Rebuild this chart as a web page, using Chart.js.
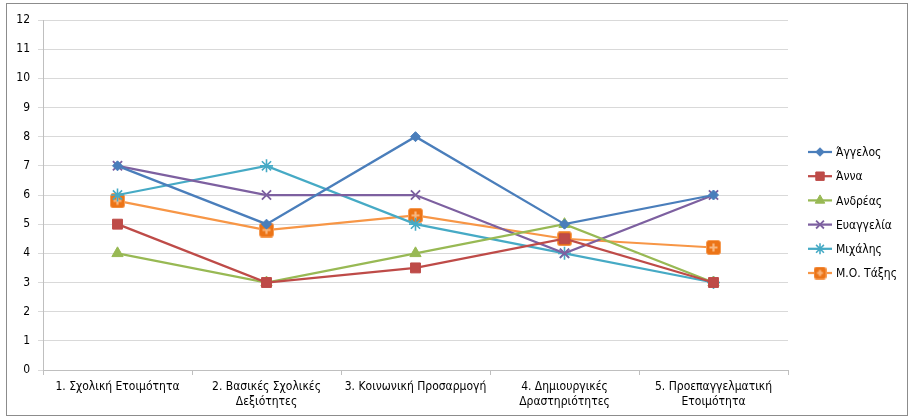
<!DOCTYPE html>
<html><head><meta charset="utf-8">
<script src="https://cdn.jsdelivr.net/npm/chart.js@4"></script>
<style>
html,body{margin:0;padding:0;background:#fff;}
#wrap{position:relative;width:912px;height:420px;}
#frame{position:absolute;left:6px;top:3px;width:900px;height:411px;border:1px solid #8c8c8c;pointer-events:none;}
</style></head><body>
<div id="wrap"><canvas id="c" width="912" height="420"></canvas><div id="frame"></div></div>
<script>
const categories = [
  "1. Σχολική Ετοιμότητα",
  ["2. Βασικές Σχολικές","Δεξιότητες"],
  "3. Κοινωνική Προσαρμογή",
  ["4. Δημιουργικές","Δραστηριότητες"],
  ["5. Προεπαγγελματική","Ετοιμότητα"]
];
const seriesNames = ["Άγγελος","Άννα","Ανδρέας","Ευαγγελία","Μιχάλης","Μ.Ο. Τάξης"];
const angelos   = [7, 5, 8, 5, 6];
const anna      = [5, 3, 3.5, 4.5, 3];
const andreas   = [4, 3, 4, 5, 3];
const evangelia = [7, 6, 6, 4, 6];
const michalis  = [6, 7, 5, 4, 3];
const mesosOros = [5.8, 4.8, 5.3, 4.5, 4.2];
const yTicks = [0,1,2,3,4,5,6,7,8,9,10,11,12];

const FONT = "'Liberation Sans Narrow','DejaVu Sans Condensed','Open Sans',sans-serif";

function plusSquare(size){
  const c = document.createElement('canvas');
  c.width = size; c.height = size;
  const g = c.getContext('2d');
  const r = 2.5;
  g.fillStyle = '#EC7417';
  g.strokeStyle = '#F59C55';
  g.lineWidth = 1;
  g.beginPath();
  g.moveTo(r+0.5,0.5); g.lineTo(size-r-0.5,0.5); g.quadraticCurveTo(size-0.5,0.5,size-0.5,r+0.5);
  g.lineTo(size-0.5,size-r-0.5); g.quadraticCurveTo(size-0.5,size-0.5,size-r-0.5,size-0.5);
  g.lineTo(r+0.5,size-0.5); g.quadraticCurveTo(0.5,size-0.5,0.5,size-r-0.5);
  g.lineTo(0.5,r+0.5); g.quadraticCurveTo(0.5,0.5,r+0.5,0.5); g.closePath();
  g.fill(); g.stroke();
  g.strokeStyle = '#F8B67F'; g.lineWidth = 2.2;
  const m = size/2;
  g.beginPath(); g.moveTo(m,3.5); g.lineTo(m,size-3.5); g.moveTo(3.5,m); g.lineTo(size-3.5,m); g.stroke();
  return c;
}
const plusImg = plusSquare(15);
const plusImgSmall = plusSquare(13);

const styles = [
  {color:'#4A7EBB', point:'rectRot', r:5, fill:'#4A7EBB', bw:1},
  {color:'#BE4B48', point:'rect', r:7, fill:'#BE4B48', bw:1},
  {color:'#98B954', point:'triangle', r:6.5, fill:'#98B954', bw:1},
  {color:'#7D60A0', point:'crossRot', r:6.5, fill:'#7D60A0', bw:1.8},
  {color:'#46AAC5', point:'star', r:6.5, fill:'#46AAC5', bw:1.6},
  {color:'#F79646', point:plusImg, r:7.5, fill:'#EC7417', bw:1}
];
const values = [angelos, anna, andreas, evangelia, michalis, mesosOros];

const datasets = values.map((v,i)=>({
  label: seriesNames[i],
  data: v,
  borderColor: styles[i].color,
  backgroundColor: styles[i].fill,
  pointBorderColor: styles[i].color,
  pointBackgroundColor: styles[i].fill,
  borderWidth: 2.25,
  pointStyle: styles[i].point,
  pointRadius: styles[i].r,
  pointBorderWidth: styles[i].bw,
  tension: 0,
  fill: false
}));

new Chart(document.getElementById('c'), {
  type:'line',
  data:{labels:categories, datasets},
  options:{
    responsive:false,
    animation:false,
    devicePixelRatio:1,
    layout:{padding:{left:0, right:124, top:20, bottom:0}},
    plugins:{legend:{display:false}, tooltip:{enabled:false}},
    scales:{
      x:{
        offset:true,
        grid:{display:true, drawOnChartArea:false, drawTicks:true, tickLength:5, color:'#BFBFBF', offset:true},
        border:{display:true, color:'#BFBFBF', width:1},
        ticks:{color:'#000', font:{family:FONT, size:12}, padding:5, maxRotation:0, autoSkip:false},
        afterFit(s){ s.height = 50; }
      },
      y:{
        min:0, max:12,
        afterBuildTicks(s){ s.ticks = yTicks.map(v=>({value:v})); },
        grid:{color:'#D9D9D9', lineWidth:1, drawTicks:true, tickLength:5},
        border:{display:true, color:'#BFBFBF', width:1},
        ticks:{color:'#000', font:{family:FONT, size:12}, padding:8, stepSize:1},
        afterFit(s){ s.width = 43; }
      }
    }
  },
  plugins:[{
    id:'legendDraw',
    afterDraw(chart){
      const ctx = chart.ctx;
      const x0 = 808, x1 = 832, y0 = 152, dy = 24.2;
      chart.data.datasets.forEach((ds,i)=>{
        const y = y0 + i*dy;
        ctx.save();
        ctx.strokeStyle = ds.borderColor; ctx.lineWidth = 2.25;
        ctx.beginPath(); ctx.moveTo(x0,y); ctx.lineTo(x1,y); ctx.stroke();
        const ps = ds.pointStyle;
        if (ps instanceof HTMLCanvasElement){
          ctx.drawImage(plusImgSmall, (x0+x1)/2-6.5, y-6.5);
        } else {
          ctx.fillStyle = ds.pointBackgroundColor;
          ctx.strokeStyle = ds.pointBorderColor;
          ctx.lineWidth = ds.pointBorderWidth;
          Chart.helpers.drawPoint(ctx, {pointStyle: ps, radius: ds.pointRadius*0.85, rotation:0, borderWidth: ds.pointBorderWidth}, (x0+x1)/2, y);
        }
        ctx.fillStyle = '#000';
        ctx.font = "12px " + FONT;
        ctx.textBaseline = 'middle';
        ctx.textAlign = 'left';
        ctx.fillText(ds.label, 836, y+1);
        ctx.restore();
      });
    }
  }]
});
</script>
</body></html>
